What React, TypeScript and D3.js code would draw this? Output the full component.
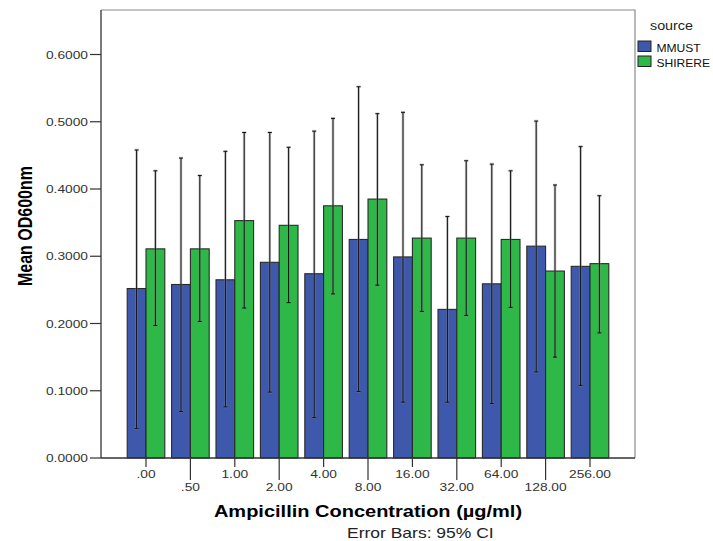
import React from 'react';
import * as d3 from 'd3';

const categories = ['.00', '.50', '1.00', '2.00', '4.00', '8.00', '16.00', '32.00', '64.00', '128.00', '256.00'];
const seriesNames = ['MMUST', 'SHIRERE'];

const mmustMean = [0.252, 0.258, 0.265, 0.291, 0.274, 0.325, 0.299, 0.221, 0.259, 0.315, 0.285];
const mmustLow = [0.044, 0.069, 0.076, 0.098, 0.060, 0.099, 0.083, 0.083, 0.081, 0.128, 0.108];
const mmustHigh = [0.458, 0.446, 0.456, 0.484, 0.486, 0.552, 0.514, 0.359, 0.437, 0.501, 0.463];

const shirereMean = [0.311, 0.311, 0.353, 0.346, 0.375, 0.385, 0.327, 0.327, 0.325, 0.278, 0.289];
const shirereLow = [0.197, 0.203, 0.223, 0.231, 0.244, 0.257, 0.218, 0.212, 0.224, 0.150, 0.186];
const shirereHigh = [0.427, 0.420, 0.484, 0.462, 0.505, 0.512, 0.436, 0.442, 0.427, 0.406, 0.390];

const yTicks = [0, 0.1, 0.2, 0.3, 0.4, 0.5, 0.6];

const colors = ['#3e58ac', '#2eb848'];
const font = '"Liberation Sans", Arial, sans-serif';

// plot frame
const left = 101, right = 635, top = 10, bottom = 458;

// the source image is stretched sideways a bit, text too
const st = (x: number, y: number, sx = 1.25, extra = '') => `translate(${x},${y}) scale(${sx},1)${extra}`;

export default function App() {
  const x0 = d3.scaleBand<string>()
    .domain(categories)
    .range([left, right])
    .paddingInner(0.153)
    .paddingOuter(0.59);

  const x1 = d3.scaleBand<string>()
    .domain(seriesNames)
    .range([0, x0.bandwidth()]);

  const y = d3.scaleLinear()
    .domain([0, (bottom - top) / 672.5])
    .range([bottom, top]);

  const fmt = d3.format('.4f');

  const rows = categories.map((c, i) => ({
    cat: c,
    vals: [
      { name: 'MMUST', mean: mmustMean[i], lo: mmustLow[i], hi: mmustHigh[i] },
      { name: 'SHIRERE', mean: shirereMean[i], lo: shirereLow[i], hi: shirereHigh[i] },
    ],
  }));

  return (
    <svg width={713} height={541} style={{ position: 'absolute', left: 0, top: 0, background: '#fff' }} fontFamily={font}>
      <rect x={0} y={0} width={713} height={541} fill="#fff" />

      {/* frame top/right */}
      <path d={`M${left},${top}H${right}V${bottom}`} fill="none" stroke="#8a8a8a" strokeWidth={1.2} />

      {/* bars */}
      {rows.map((r) => r.vals.map((v, j) => (
        <rect key={r.cat + v.name}
          x={(x0(r.cat) as number) + (x1(v.name) as number)}
          y={y(v.mean)}
          width={x1.bandwidth()}
          height={y(0) - y(v.mean)}
          fill={colors[j]}
          stroke="#2a2a2a"
          strokeWidth={1.1} />
      )))}

      {/* error bars */}
      {rows.map((r) => r.vals.map((v) => {
        const cx = (x0(r.cat) as number) + (x1(v.name) as number) + x1.bandwidth() / 2;
        const d = `M${cx},${y(v.lo)}V${y(v.hi)}M${cx - 2},${y(v.hi)}H${cx + 2}M${cx - 2},${y(v.lo)}H${cx + 2}`;
        return (
          <g key={'e' + r.cat + v.name}>
            <path d={d} fill="none" stroke="#888" strokeWidth={2.6} strokeOpacity={0.45} />
            <path d={d} fill="none" stroke="#111" strokeWidth={1} />
          </g>
        );
      }))}

      {/* y axis */}
      <line x1={left} x2={left} y1={top} y2={bottom} stroke="#333" strokeWidth={1.3} />
      {yTicks.map((t) => (
        <g key={t}>
          <line x1={left - 11} x2={left} y1={y(t)} y2={y(t)} stroke="#333" strokeWidth={1.2} />
          <text transform={st(left - 13, y(t) + 4)} textAnchor="end" fontSize={11} fill="#333">{fmt(t)}</text>
        </g>
      ))}
      <text transform={st(31.5, 226, 1.25, ' rotate(-90)')} textAnchor="middle" fontSize={16} fontWeight="bold" fill="#000">Mean OD600nm</text>

      {/* x axis */}
      <line x1={left} x2={right} y1={bottom} y2={bottom} stroke="#333" strokeWidth={1.3} />
      {categories.map((c, i) => {
        const cx = (x0(c) as number) + x0.bandwidth() / 2;
        const low = i % 2 === 1;
        return (
          <g key={c}>
            <line x1={cx} x2={cx} y1={bottom} y2={low ? 480 : 467} stroke="#333" strokeWidth={1.2} />
            <text transform={st(cx, low ? 490.5 : 477.5)} textAnchor="middle" fontSize={11} fill="#333">{c}</text>
          </g>
        );
      })}
      <text transform={st((left + right) / 2, 516.5)} textAnchor="middle" fontSize={16} fontWeight="bold" fill="#000">Ampicillin Concentration (µg/ml)</text>
      <text transform={st(347, 538)} fontSize={14} fill="#222">Error Bars: 95% CI</text>

      {/* legend */}
      <text transform={st(650, 29.5, 1.1)} fontSize={13} fill="#222">source</text>
      {seriesNames.map((s, i) => (
        <g key={s}>
          <rect x={638} y={41 + i * 15} width={13} height={10.5} fill={colors[i]} stroke="#222" strokeWidth={1} />
          <text transform={st(656.5, 51.5 + i * 15, 1.05)} fontSize={11.5} fill="#111">{s}</text>
        </g>
      ))}
    </svg>
  );
}
